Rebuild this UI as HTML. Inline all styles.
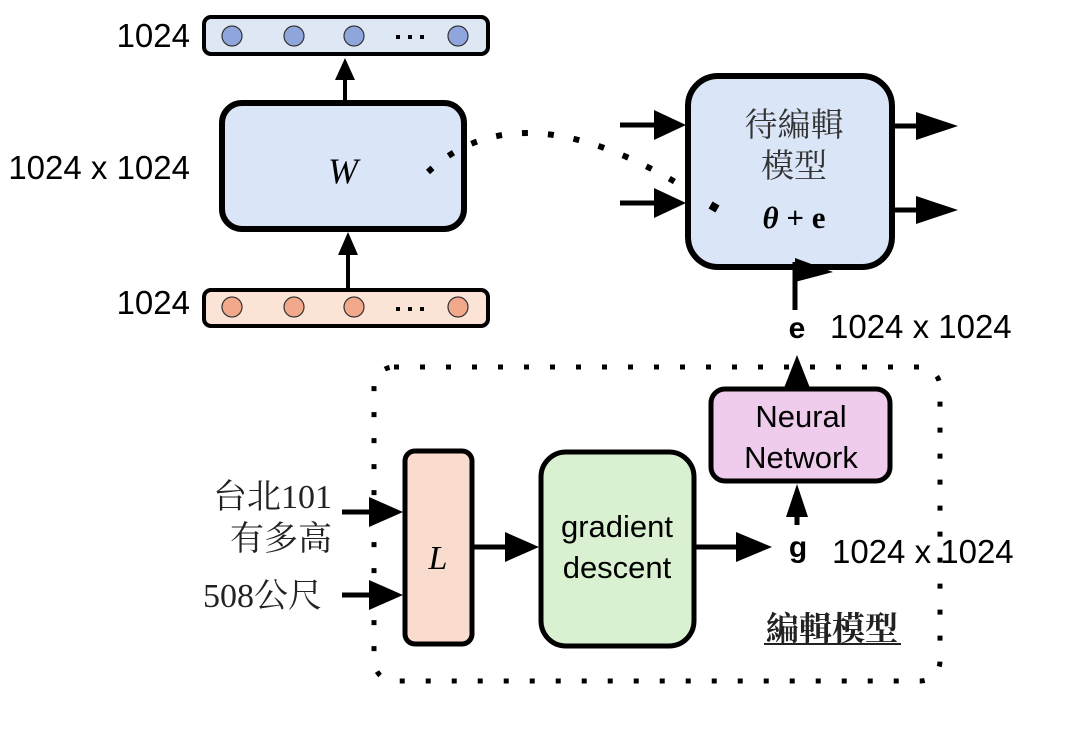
<!DOCTYPE html>
<html><head><meta charset="utf-8"><style>
html,body{margin:0;padding:0;background:#fff;}
svg{display:block;}
.t{font-family:"Liberation Sans",sans-serif;}
.c{font-family:"Liberation Serif","Noto Serif CJK SC","Noto Sans CJK TC",serif;}
</style></head><body>
<svg width="1080" height="740" viewBox="0 0 1080 740" xmlns="http://www.w3.org/2000/svg">
<!-- top bar -->
<rect x="204" y="17" width="284" height="37" rx="7" fill="#dde8f4" stroke="#000" stroke-width="4"/>
<g fill="#8fa6dc" stroke="#333" stroke-width="1.2">
<circle cx="232" cy="36" r="10"/><circle cx="294" cy="36" r="10"/><circle cx="354" cy="36" r="10"/><circle cx="458" cy="36" r="10"/>
</g>
<g fill="#000"><rect x="396" y="35" width="4" height="4"/><rect x="408" y="35" width="4" height="4"/><rect x="420" y="35" width="4" height="4"/></g>
<text class="t" x="190" y="47" font-size="33" text-anchor="end">1024</text>
<!-- bottom bar -->
<rect x="204" y="290" width="284" height="36" rx="7" fill="#fbe3d6" stroke="#000" stroke-width="4"/>
<g fill="#f2a88a" stroke="#333" stroke-width="1.2">
<circle cx="232" cy="307" r="10"/><circle cx="294" cy="307" r="10"/><circle cx="354" cy="307" r="10"/><circle cx="458" cy="307" r="10"/>
</g>
<g fill="#000"><rect x="396" y="307" width="4" height="4"/><rect x="408" y="307" width="4" height="4"/><rect x="420" y="307" width="4" height="4"/></g>
<text class="t" x="190" y="314" font-size="33" text-anchor="end">1024</text>
<!-- W box -->
<rect x="222" y="103" width="242" height="126" rx="20" fill="#dae6f7" stroke="#000" stroke-width="6"/>
<text x="343" y="183" font-family="Liberation Serif,serif" font-style="italic" font-size="36" text-anchor="middle">W</text>
<text class="t" x="190" y="179" font-size="33" text-anchor="end">1024 x 1024</text>
<!-- arrows W -->
<line x1="345" y1="100" x2="345" y2="75" stroke="#000" stroke-width="4"/>
<polygon points="345,58 335,80 355,80" fill="#000"/>
<line x1="348" y1="288" x2="348" y2="250" stroke="#000" stroke-width="4"/>
<polygon points="348,232 338,255 358,255" fill="#000"/>
<!-- dotted curve -->
<path d="M428,172 Q528,79 716,208" fill="none" stroke="#000" stroke-width="6" stroke-dasharray="6 20"/>
<!-- model box -->
<rect x="688" y="76" width="204" height="191" rx="30" fill="#dae6f7" stroke="#000" stroke-width="6"/>
<rect x="710" y="203" width="8" height="8" fill="#000" transform="rotate(30 714 207)"/>
<text class="c" x="794" y="136" font-size="33" text-anchor="middle" fill="#333">待編輯</text>
<text class="c" x="794" y="177" font-size="33" text-anchor="middle" fill="#333">模型</text>
<text x="794" y="228" font-family="Liberation Serif,serif" font-weight="bold" font-size="31" text-anchor="middle"><tspan font-style="italic">θ</tspan> + e</text>
<!-- arrows in/out -->
<g stroke="#000" stroke-width="5">
<line x1="620" y1="125" x2="660" y2="125"/><line x1="620" y1="203" x2="660" y2="203"/>
<line x1="893" y1="126" x2="920" y2="126"/><line x1="893" y1="210" x2="920" y2="210"/>
</g>
<g fill="#000">
<polygon points="686,125 654,110 654,140"/><polygon points="686,203 654,188 654,218"/>
<polygon points="958,126 916,112 916,140"/><polygon points="958,210 916,196 916,224"/>
<polygon points="795,258 833,272 795,282"/>
</g>
<line x1="795" y1="262" x2="795" y2="310" stroke="#000" stroke-width="5"/>
<text class="t" x="797" y="338" font-size="30" font-weight="bold" text-anchor="middle">e</text>
<text class="t" x="830" y="338" font-size="33">1024 x 1024</text>
<!-- dotted container -->
<rect x="374" y="367" width="566" height="314" rx="20" fill="none" stroke="#000" stroke-width="5" stroke-dasharray="5 21"/>
<!-- NN -->
<rect x="711" y="389" width="179" height="92" rx="14" fill="#f0ccec" stroke="#000" stroke-width="5"/>
<text class="t" x="801" y="427" font-size="31" text-anchor="middle">Neural</text>
<text class="t" x="801" y="468" font-size="31" text-anchor="middle">Network</text>
<line x1="797" y1="386" x2="797" y2="372" stroke="#000" stroke-width="5"/>
<polygon points="797,355 784,388 810,388" fill="#000"/>
<line x1="797" y1="525" x2="797" y2="505" stroke="#000" stroke-width="5"/>
<polygon points="797,484 786,517 808,517" fill="#000"/>
<text class="t" x="798" y="557" font-size="30" font-weight="bold" text-anchor="middle">g</text>
<text class="t" x="832" y="563" font-size="33">1024 x 1024</text>
<!-- L -->
<rect x="405" y="451" width="67" height="193" rx="10" fill="#f9dccd" stroke="#000" stroke-width="5"/>
<text x="438" y="569" font-family="Liberation Serif,serif" font-style="italic" font-size="34" text-anchor="middle">L</text>
<!-- GD -->
<rect x="541" y="452" width="153" height="194" rx="25" fill="#d9f1d0" stroke="#000" stroke-width="5"/>
<text class="t" x="617" y="537" font-size="31" text-anchor="middle">gradient</text>
<text class="t" x="617" y="578" font-size="31" text-anchor="middle">descent</text>
<!-- arrows -->
<g stroke="#000" stroke-width="5">
<line x1="342" y1="512" x2="372" y2="512"/><line x1="342" y1="595" x2="372" y2="595"/>
<line x1="474" y1="547" x2="510" y2="547"/><line x1="696" y1="547" x2="740" y2="547"/>
</g>
<g fill="#000">
<polygon points="403,512 369,497 369,527"/><polygon points="403,595 369,580 369,610"/>
<polygon points="539,547 505,532 505,562"/><polygon points="772,547 736,532 736,562"/>
</g>
<text class="c" x="332" y="508" font-size="34" text-anchor="end" fill="#222">台北101</text>
<text class="c" x="332" y="550" font-size="34" text-anchor="end" fill="#222">有多高</text>
<text class="c" x="322" y="607" font-size="34" text-anchor="end" fill="#222">508公尺</text>
<text class="c" x="832" y="640" font-size="33" font-weight="bold" text-anchor="middle" fill="#222">編輯模型</text>
<line x1="764" y1="644" x2="901" y2="644" stroke="#222" stroke-width="2"/>
</svg>
</body></html>
